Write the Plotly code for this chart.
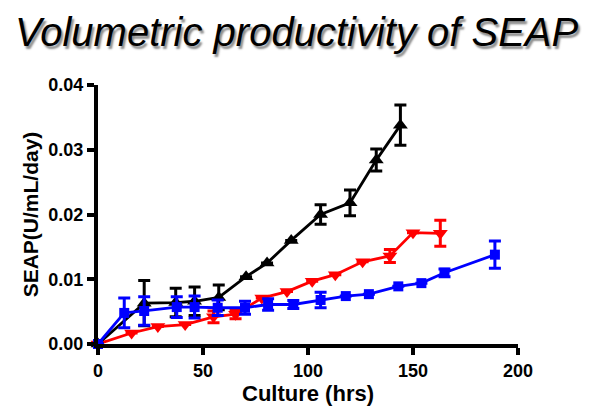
import plotly.graph_objects as go

# Black triangles series
black_x = [0, 22, 37, 46, 57.5, 70.5, 80.5, 92, 106, 120, 132.5, 144]
black_y = [0, 0.0063, 0.0064, 0.0066, 0.0072, 0.0104, 0.0125, 0.0160, 0.0200, 0.0218, 0.0284, 0.0338]
black_err = [0, 0.0035, 0.0022, 0.0022, 0.0019, 0, 0, 0, 0.0015, 0.0020, 0.0017, 0.0031]

# Red inverted triangles series
red_x = [0, 16, 28.5, 41.5, 55, 65.5, 78, 90, 102, 113, 126, 139, 150, 163]
red_y = [0, 0.0017, 0.0027, 0.0030, 0.0042, 0.0046, 0.0071, 0.0081, 0.0097, 0.0107, 0.0127, 0.0136, 0.0172, 0.0171]
red_err = [0, 0, 0, 0, 0.0009, 0.0007, 0, 0, 0, 0, 0, 0.0010, 0, 0.0020]

# Blue squares series
blue_x = [0, 12.5, 22, 37.5, 46, 57, 70, 81, 93, 106, 118, 129, 143, 154, 165, 189]
blue_y = [0, 0.0048, 0.0051, 0.0057, 0.0057, 0.0056, 0.0056, 0.0061, 0.0061, 0.0068, 0.0074, 0.0077, 0.0089, 0.0094, 0.0110, 0.0138]
blue_err = [0, 0.0023, 0.0022, 0.0016, 0.0017, 0.0012, 0.0010, 0.0009, 0.0006, 0.0012, 0, 0, 0, 0, 0.0006, 0.0021]

x_ticks = [0, 50, 100, 150, 200]
x_tick_labels = ["0", "50", "100", "150", "200"]
y_ticks = [0.00, 0.01, 0.02, 0.03, 0.04]
y_tick_labels = ["0.00", "0.01", "0.02", "0.03", "0.04"]

FONT = "Liberation Sans, Arial, sans-serif"

fig = go.Figure()

def add_series(xs, ys, errs, color, symbol, size):
    fig.add_trace(go.Scatter(
        x=xs, y=ys, mode="lines+markers",
        line=dict(color=color, width=2.8),
        marker=dict(color=color, symbol=symbol, size=size),
        error_y=dict(type="data", array=errs, visible=True, color=color,
                     thickness=3, width=6),
        cliponaxis=False, showlegend=False,
    ))

add_series(red_x, red_y, red_err, "#ff0000", "triangle-down", 13)
add_series(black_x, black_y, black_err, "#000000", "triangle-up", 13)
add_series(blue_x, blue_y, blue_err, "#0000ff", "square", 10)

fig.update_layout(
    width=594, height=406,
    margin=dict(l=90, r=84, t=77, b=70),
    plot_bgcolor="white", paper_bgcolor="white",
    font=dict(family=FONT, color="black"),
    xaxis=dict(
        range=[0, 200], tickvals=x_ticks,
        ticktext=["<b>%s</b>" % t for t in x_tick_labels],
        showgrid=False, zeroline=False,
        showline=True, linecolor="black", linewidth=4,
        ticks="outside", ticklen=7, tickwidth=3.5, tickcolor="black",
        tickfont=dict(size=18, family=FONT),
        title=dict(text="<b>Culture (hrs)</b>", font=dict(size=22, family=FONT), standoff=7),
    ),
    yaxis=dict(
        range=[0, 0.04], tickvals=y_ticks,
        ticktext=["<b>%s</b>" % t for t in y_tick_labels],
        showgrid=False, zeroline=False,
        showline=True, linecolor="black", linewidth=4,
        ticks="outside", ticklen=7, tickwidth=3.5, tickcolor="black",
        tickfont=dict(size=18, family=FONT),
        title=dict(text="<b>SEAP(U/mL/day)</b>", font=dict(size=21, family=FONT), standoff=5),
    ),
)

title_text = "Volumetric productivity of SEAP"
fig.add_annotation(text="<i>" + title_text + "</i>", xref="paper", yref="paper",
                   x=0.5, y=1, yanchor="middle", xanchor="center",
                   xshift=-11, yshift=53, showarrow=False,
                   font=dict(size=40, color="black", family=FONT,
                             shadow="2px 3px 2px rgba(0,0,0,0.45)"))

fig.write_html("out.html")
